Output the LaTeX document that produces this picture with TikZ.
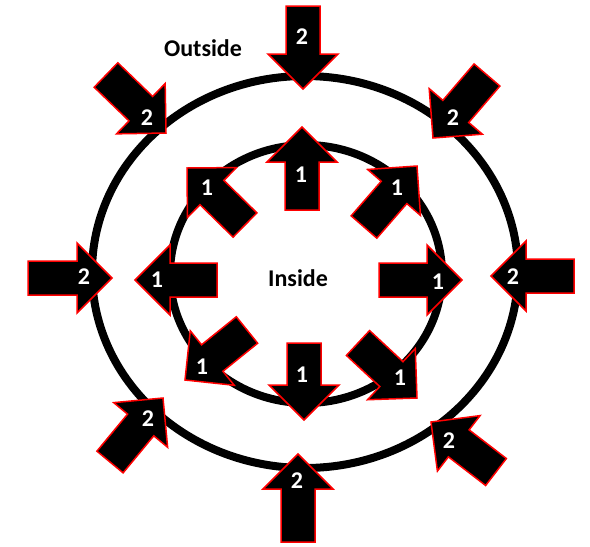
\documentclass[tikz,border=0pt]{standalone}
\usepackage{fontspec}
\setmainfont{Carlito}
\usepackage{tikz}
\usetikzlibrary{calc}
\definecolor{ArrowRed}{RGB}{255,0,0}

% Block arrow from a named tail coordinate to a named tip coordinate.
\newcommand{\blockarrow}[2]{%
  \coordinate (#2-base) at ($(#2)!35pt!(#1)$);
  \draw[blockarrow]
    ($(#1)!17pt!90:(#2)$) -- ($(#2-base)!17pt!90:(#2)$) --
    ($(#2-base)!35pt!90:(#2)$) -- (#2) --
    ($(#2-base)!35pt!-90:(#2)$) -- ($(#2-base)!17pt!-90:(#2)$) --
    ($(#1)!17pt!-90:(#2)$) -- cycle;
}

\begin{document}
\begin{tikzpicture}[
    x=1pt, y=-1pt,
    ring/.style={draw=black, line width=8pt},
    blockarrow/.style={fill=black, draw=ArrowRed, line width=1.5pt, line join=miter},
    numlabel/.style={text=white, font=\bfseries\fontsize{24}{24}\selectfont, inner sep=0pt},
    zonelabel/.style={text=black, font=\bfseries\fontsize{24}{24}\selectfont, inner sep=0pt}
]
\useasboundingbox (0,0) rectangle (590,547);

% Two rings: outer and inner boundary.
\draw[ring] (305,272) ellipse [x radius=213pt, y radius=196pt];
\draw[ring] (306,274) ellipse [x radius=136pt, y radius=129pt];

% Zone names.
\node[zonelabel] (outside) at (203,48) {Outside};
\node[zonelabel] (inside) at (298,278) {Inside};

% Inner arrows: pushing outward from the inner ring.
\coordinate (itail1) at (302,210); \coordinate (itip1) at (302,127);
\coordinate (itail2) at (364,227); \coordinate (itip2) at (417,166);
\coordinate (itail3) at (379,280); \coordinate (itip3) at (462,280);
\coordinate (itail4) at (358,343); \coordinate (itip4) at (417,398);
\coordinate (itail5) at (304,343); \coordinate (itip5) at (304,420);
\coordinate (itail6) at (247,330); \coordinate (itip6) at (185,380);
\coordinate (itail7) at (217,280); \coordinate (itip7) at (135,280);
\coordinate (itail8) at (245,225); \coordinate (itip8) at (187,168);
\blockarrow{itail1}{itip1}
\blockarrow{itail2}{itip2}
\blockarrow{itail3}{itip3}
\blockarrow{itail4}{itip4}
\blockarrow{itail5}{itip5}
\blockarrow{itail6}{itip6}
\blockarrow{itail7}{itip7}
\blockarrow{itail8}{itip8}

% Outer arrows: pushing inward onto the outer ring.
\coordinate (otail1) at (303,6);   \coordinate (otip1) at (303,89);
\coordinate (otail2) at (487,75);  \coordinate (otip2) at (433,138);
\coordinate (otail3) at (574,276); \coordinate (otip3) at (491,276);
\coordinate (otail4) at (496,472); \coordinate (otip4) at (431,422);
\coordinate (otail5) at (298,542); \coordinate (otip5) at (298,454);
\coordinate (otail6) at (110,462); \coordinate (otip6) at (163,398);
\coordinate (otail7) at (28,278);  \coordinate (otip7) at (112,278);
\coordinate (otail8) at (106,75);  \coordinate (otip8) at (166,133);
\blockarrow{otail1}{otip1}
\blockarrow{otail2}{otip2}
\blockarrow{otail3}{otip3}
\blockarrow{otail4}{otip4}
\blockarrow{otail5}{otip5}
\blockarrow{otail6}{otip6}
\blockarrow{otail7}{otip7}
\blockarrow{otail8}{otip8}

% Numbers on the arrows.
\node[numlabel] (in1) at (301,175) {1};
\node[numlabel] (in2) at (397,188) {1};
\node[numlabel] (in3) at (438,282) {1};
\node[numlabel] (in4) at (400,378) {1};
\node[numlabel] (in5) at (302,375) {1};
\node[numlabel] (in6) at (202,367) {1};
\node[numlabel] (in7) at (157,280) {1};
\node[numlabel] (in8) at (207,188) {1};
\node[numlabel] (out1) at (302,37) {2};
\node[numlabel] (out2) at (453,118) {2};
\node[numlabel] (out3) at (513,277) {2};
\node[numlabel] (out4) at (449,441) {2};
\node[numlabel] (out5) at (297,481) {2};
\node[numlabel] (out6) at (148,419) {2};
\node[numlabel] (out7) at (84,277) {2};
\node[numlabel] (out8) at (147,118) {2};

\end{tikzpicture}
\end{document}
